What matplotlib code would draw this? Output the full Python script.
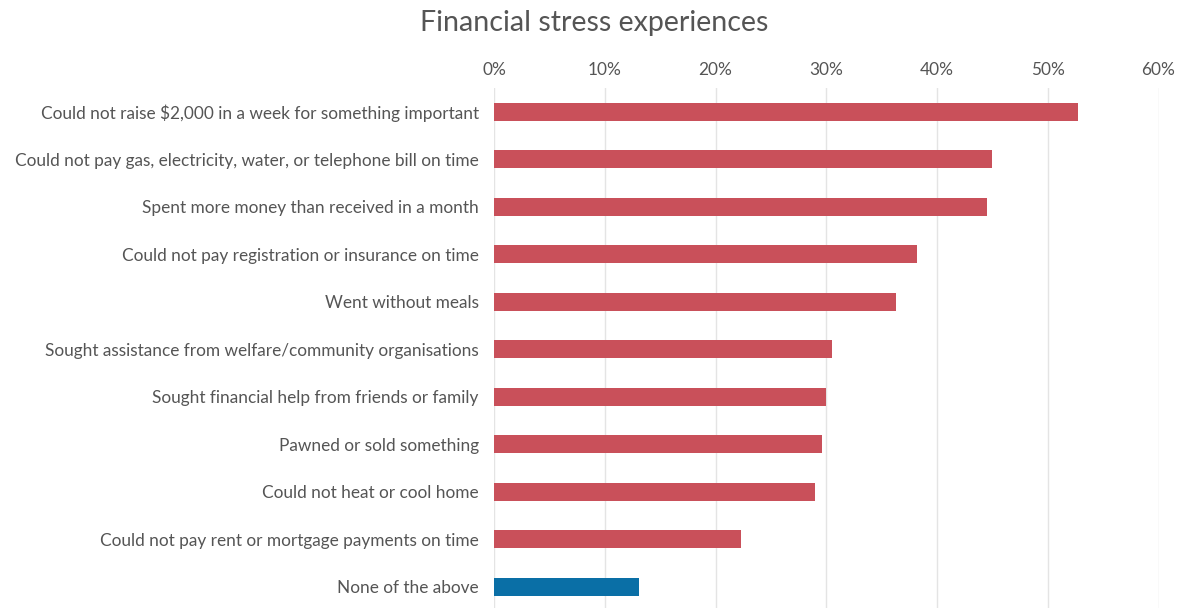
import numpy as np
import matplotlib.pyplot as plt

# Share of respondents reporting each experience (%)
categories = [
    "Could not raise $2,000 in a week for something important",
    "Could not pay gas, electricity, water, or telephone bill on time",
    "Spent more money than received in a month",
    "Could not pay registration or insurance on time",
    "Went without meals",
    "Sought assistance from welfare/community organisations",
    "Sought financial help from friends or family",
    "Pawned or sold something",
    "Could not heat or cool home",
    "Could not pay rent or mortgage payments on time",
    "None of the above",
]
values = [52.7, 45.0, 44.5, 38.2, 36.3, 30.5, 30.0, 29.6, 29.0, 22.3, 13.1]
tick_values = [0, 10, 20, 30, 40, 50, 60]
tick_labels = ["0%", "10%", "20%", "30%", "40%", "50%", "60%"]

plt.rcParams['font.family'] = ['Lato', 'DejaVu Sans']

red = '#C9505A'
blue = '#0A6FA6'
colors = [blue if c == "None of the above" else red for c in categories]

fig = plt.figure(figsize=(11.81, 6.08), dpi=100)
ax = fig.add_axes([0.4183, 0.0, 0.5627, 0.855])

y = np.arange(len(categories))
ax.barh(y, values, height=0.38, color=colors, zorder=3)

ax.set_xlim(0, 60)
ax.set_ylim(len(categories) - 0.55, -0.5)
ax.set_yticks(y)
ax.set_yticklabels(categories, fontsize=12.4, color='#555555')
ax.set_xticks(tick_values)
ax.set_xticklabels(tick_labels, fontsize=12.4, color='#555555')
ax.xaxis.tick_top()
ax.tick_params(axis='both', length=0)
ax.tick_params(axis='x', pad=7)
ax.tick_params(axis='y', pad=11)

ax.grid(axis='x', color='#e4e4e4', linewidth=1, zorder=0)
for s in ax.spines.values():
    s.set_visible(False)

fig.text(0.503, 0.962, "Financial stress experiences", ha='center', va='center',
         fontsize=20.6, color='#555555')

fig.savefig('out.png', dpi=100)
